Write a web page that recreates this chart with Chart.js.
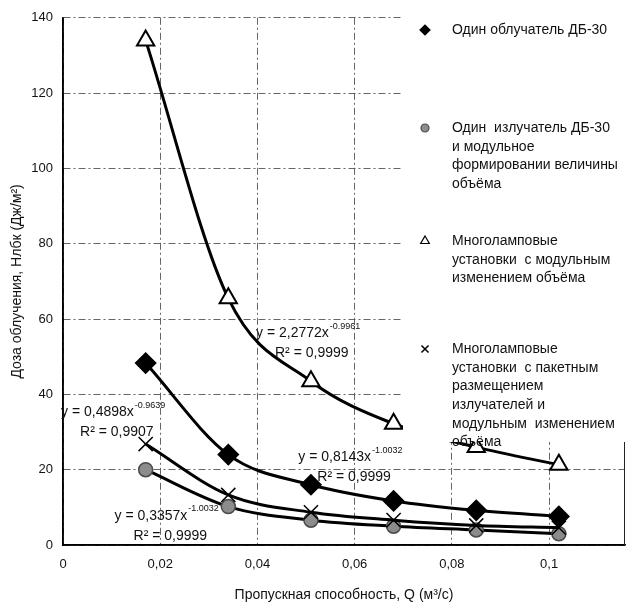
<!DOCTYPE html>
<html lang="ru">
<head>
  <meta charset="UTF-8">
  <title>Доза облучения</title>
  <style>
    body { margin: 0; background: #fff; }
    #wrap { width: 626px; height: 604px; }
  </style>
</head>
<body>
  <div id="wrap"><canvas id="chart" width="626" height="604"></canvas></div>

  <script src="https://cdn.jsdelivr.net/npm/chart.js"></script>
  <script>
    // Q values, m3/s
    const flowQ = [0.017, 0.034, 0.051, 0.068, 0.085, 0.102];

    // dose values per series
    const singleDB30 = [48.3, 24.0, 16.0, 11.7, 9.2, 7.6];
    const singleModular = [20.0, 10.2, 6.6, 5.0, 4.0, 3.0];
    const multiModular = [134, 65.5, 43.5, 32.2, 26.0, 21.3];
    const multiPacket = [26.8, 13.3, 8.7, 6.6, 5.2, 4.6];

    const seriesNames = [
      ['Один облучатель ДБ-30'],
      ['Один  излучатель ДБ-30', 'и модульное', 'формировании величины', 'объёма'],
      ['Многоламповые', 'установки  с модульным', 'изменением объёма'],
      ['Многоламповые', 'установки  с пакетным', 'размещением', 'излучателей и', 'модульным  изменением', 'объёма']
    ];

    const xTicks = [0, 0.02, 0.04, 0.06, 0.08, 0.1];

    // trend equations: [main, exponent, R²]
    const equations = [
      ['y = 2,2772x', '-0.9961', 'R² = 0,9999'],
      ['y = 0,4898x', '-0.9639', 'R² = 0,9907'],
      ['y = 0,8143x', '-1.0032', 'R² = 0,9999'],
      ['y = 0,3357x', '-1.0032', 'R² = 0,9999']
    ];
    // where each equation sits (data coords)
    const eqAnchors = [[0.0397, 56.2], [-0.0004, 35.3], [0.0484, 23.3], [0.0106, 7.7]];

    const FONT = '"Liberation Sans", Arial, sans-serif';
    const INK = '#111';

    function pts(ys) { return flowQ.map((x, i) => ({ x: x, y: ys[i] })); }

    const legendMarks = ['rectRot', 'circle', 'triangle', 'crossRot'];
    const legendY = [30, 128, 241, 349];

    const overlay = {
      id: 'overlay',
      beforeDatasetsDraw(chart) {
        // solid axis lines over the dashed grid
        const a = chart.chartArea, ctx = chart.ctx;
        ctx.save();
        ctx.strokeStyle = '#000';
        ctx.lineWidth = 1.5;
        ctx.beginPath();
        ctx.moveTo(a.left, a.top);
        ctx.lineTo(a.left, a.bottom);
        ctx.lineTo(a.right, a.bottom);
        ctx.stroke();
        ctx.restore();
      },
      afterDatasetsDraw(chart) {
        const ctx = chart.ctx;
        const xs = chart.scales.x, ys = chart.scales.y;
        ctx.save();
        // legend box covers the plot
        ctx.fillStyle = '#fff';
        ctx.fillRect(403, 0, 223, 442);

        ctx.fillStyle = INK;
        ctx.textBaseline = 'middle';
        ctx.textAlign = 'left';
        ctx.font = '14px ' + FONT;
        seriesNames.forEach((lines, i) => {
          lines.forEach((t, j) => ctx.fillText(t, 452, legendY[i] + j * 18.7));
        });
        // legend markers
        const ds = chart.data.datasets;
        legendMarks.forEach((m, i) => {
          const d = ds[i];
          ctx.fillStyle = d.pointBackgroundColor;
          ctx.strokeStyle = d.pointBorderColor;
          ctx.lineWidth = i === 3 ? 1.5 : 1.2;
          Chart.helpers.drawPoint(ctx, { pointStyle: m, radius: i === 1 ? 4 : 5, rotation: 0, borderWidth: ctx.lineWidth }, 425, legendY[i]);
        });

        // trend equations
        equations.forEach((e, i) => {
          const px = xs.getPixelForValue(eqAnchors[i][0]);
          const py = ys.getPixelForValue(eqAnchors[i][1]);
          ctx.fillStyle = INK;
          ctx.font = '14px ' + FONT;
          ctx.fillText(e[0], px, py);
          const w = ctx.measureText(e[0]).width;
          ctx.font = '9px ' + FONT;
          ctx.fillText(e[1], px + w + 1, py - 7);
          ctx.font = '14px ' + FONT;
          ctx.fillText(e[2], px + 19, py + 20);
        });

        // right frame edge
        ctx.strokeStyle = '#222';
        ctx.lineWidth = 1;
        ctx.beginPath();
        ctx.moveTo(chart.chartArea.right - 0.5, 442);
        ctx.lineTo(chart.chartArea.right - 0.5, chart.chartArea.bottom);
        ctx.stroke();
        ctx.restore();
      }
    };

    const gridStyle = {
      color: '#555',
      lineWidth: 0.9,
      drawTicks: false
    };
    const axisBorder = { display: true, color: '#000', width: 1.5, dash: [7, 3, 2, 3] };

    new Chart(document.getElementById('chart'), {
      type: 'scatter',
      data: {
        datasets: [
          {
            label: seriesNames[0].join(' '), data: pts(singleDB30), order: 1,
            pointStyle: 'rectRot', pointRadius: 9,
            pointBackgroundColor: '#000', pointBorderColor: '#000'
          },
          {
            label: seriesNames[1].join(' '), data: pts(singleModular), order: 4,
            pointStyle: 'circle', pointRadius: 7,
            pointBackgroundColor: '#8c8c8c', pointBorderColor: '#4a4a4a', pointBorderWidth: 1.5
          },
          {
            label: seriesNames[2].join(' '), data: pts(multiModular), order: 2,
            pointStyle: 'triangle', pointRadius: 10,
            pointBackgroundColor: '#fff', pointBorderColor: '#000', pointBorderWidth: 2
          },
          {
            label: seriesNames[3].join(' '), data: pts(multiPacket), order: 3,
            pointStyle: 'crossRot', pointRadius: 10,
            pointBackgroundColor: '#000', pointBorderColor: '#000', pointBorderWidth: 1.5
          }
        ].map(d => Object.assign({
          showLine: true, borderColor: '#000', borderWidth: 3, clip: false,
          cubicInterpolationMode: 'monotone', pointHoverRadius: d.pointRadius
        }, d))
      },
      options: {
        responsive: false,
        animation: false,
        layout: { autoPadding: false, padding: { top: 17, right: 1, left: 0, bottom: 0 } },
        plugins: { legend: { display: false }, tooltip: { enabled: false } },
        scales: {
          x: {
            type: 'linear', min: 0, max: 0.1156,
            afterBuildTicks: s => { s.ticks = xTicks.map(v => ({ value: v })); },
            afterFit: s => { s.height = 59; },
            grid: gridStyle,
            border: axisBorder,
            ticks: {
              padding: 12, color: INK, font: { family: FONT, size: 13 },
              maxRotation: 0,
              callback: v => String(Number(v.toFixed(2))).replace('.', ',')
            },
            title: {
              display: true, text: 'Пропускная способность, Q (м³/с)',
              color: INK, font: { family: FONT, size: 14 }, padding: { top: 0, bottom: 0 }
            }
          },
          y: {
            min: 0, max: 140,
            afterFit: s => { s.width = 63; },
            grid: gridStyle,
            border: axisBorder,
            ticks: {
              stepSize: 20, padding: 10, color: INK, font: { family: FONT, size: 13 }
            },
            title: {
              display: true, text: 'Доза облучения, Нлбк (Дж/м²)',
              color: INK, font: { family: FONT, size: 14 }, padding: { top: 9, bottom: 0 }
            }
          }
        }
      },
      plugins: [overlay]
    });
  </script>
</body>
</html>
